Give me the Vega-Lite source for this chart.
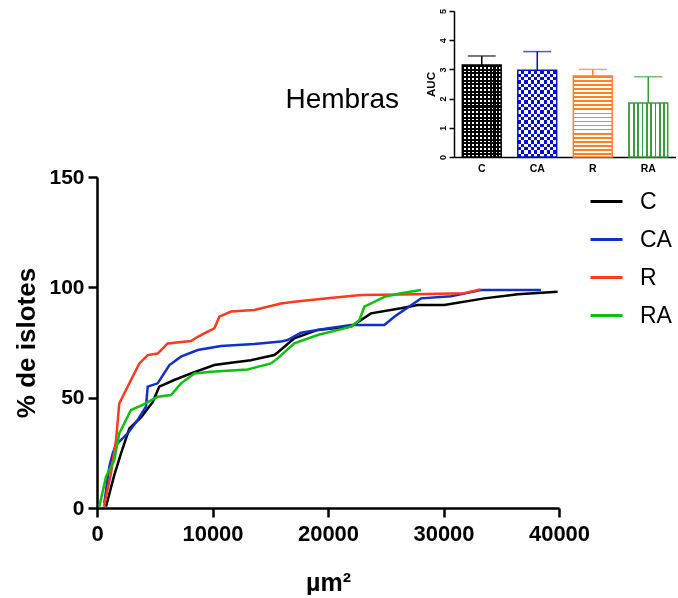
{
 "$schema": "https://vega.github.io/schema/vega-lite/v6.json",
 "padding": {"left": 13, "top": 8, "right": 0, "bottom": 0},
 "background": "white",
 "config": {"view": {"stroke": null}, "font": "Liberation Sans"},
 "resolve": {"scale": {"color": "independent"}},
 "spacing": -8,
 "vconcat": [
  {
   "spacing": 25,
   "hconcat": [
    {"width": 302, "height": 146,
     "title": {"text": "Hembras", "orient": "bottom", "anchor": "end", "frame": "group", "baseline": "top", "offset": -71, "fontSize": 28, "fontWeight": "normal", "font": "Liberation Sans", "color": "black"},
     "data": {"values": []}, "mark": {"type": "point", "opacity": 0}, "encoding": {}},
    {
     "width": 222, "height": 146,
     "data": {"values": [
       {"grupo": "C", "auc": 3.15, "sup": 3.46},
       {"grupo": "CA", "auc": 2.97, "sup": 3.61},
       {"grupo": "R", "auc": 2.77, "sup": 3.0},
       {"grupo": "RA", "auc": 1.85, "sup": 2.75}
     ]},
     "encoding": {
       "x": {"field": "grupo", "type": "nominal", "scale": {"domain": ["C", "CA", "R", "RA"], "paddingInner": 0.3, "paddingOuter": 0.15},
         "axis": {"title": null, "labelAngle": 0, "ticks": false, "labelFontSize": 10.5, "labelFontWeight": "bold", "labelColor": "black", "labelPadding": 6, "domainColor": "black", "domainWidth": 1.5}},
       "y": {"field": "auc", "type": "quantitative", "scale": {"domain": [0, 5], "nice": false},
         "axis": {"title": "AUC", "values": [0, 1, 2, 3, 4, 5], "grid": false, "labelAngle": -90, "labelAlign": "center", "labelBaseline": "bottom", "labelFontSize": 9, "labelFontWeight": "bold", "labelColor": "black", "labelPadding": 2, "tickColor": "black", "tickSize": 5, "tickWidth": 1.5, "domainColor": "black", "domainWidth": 1.5, "titleFontSize": 11.5, "titleFontWeight": "bold", "titleColor": "black", "titlePadding": 2}}
     },
     "layer": [
      {"transform": [{"filter": "datum.grupo === 'C'"}],
       "mark": {"type": "bar", "fill": {"gradient": "linear", "x1": 0, "y1": 0, "x2": 1, "y2": 0, "stops": [
        {"offset": 0, "color": "#000000"}, {"offset": 0.055, "color": "#000000"}, {"offset": 0.055, "color": "#ffffff"}, {"offset": 0.1, "color": "#ffffff"},
        {"offset": 0.1, "color": "#000000"}, {"offset": 0.155, "color": "#000000"}, {"offset": 0.155, "color": "#ffffff"}, {"offset": 0.2, "color": "#ffffff"},
        {"offset": 0.2, "color": "#000000"}, {"offset": 0.255, "color": "#000000"}, {"offset": 0.255, "color": "#ffffff"}, {"offset": 0.3, "color": "#ffffff"},
        {"offset": 0.3, "color": "#000000"}, {"offset": 0.355, "color": "#000000"}, {"offset": 0.355, "color": "#ffffff"}, {"offset": 0.4, "color": "#ffffff"},
        {"offset": 0.4, "color": "#000000"}, {"offset": 0.455, "color": "#000000"}, {"offset": 0.455, "color": "#ffffff"}, {"offset": 0.5, "color": "#ffffff"},
        {"offset": 0.5, "color": "#000000"}, {"offset": 0.555, "color": "#000000"}, {"offset": 0.555, "color": "#ffffff"}, {"offset": 0.6, "color": "#ffffff"},
        {"offset": 0.6, "color": "#000000"}, {"offset": 0.655, "color": "#000000"}, {"offset": 0.655, "color": "#ffffff"}, {"offset": 0.7, "color": "#ffffff"},
        {"offset": 0.7, "color": "#000000"}, {"offset": 0.755, "color": "#000000"}, {"offset": 0.755, "color": "#ffffff"}, {"offset": 0.8, "color": "#ffffff"},
        {"offset": 0.8, "color": "#000000"}, {"offset": 0.855, "color": "#000000"}, {"offset": 0.855, "color": "#ffffff"}, {"offset": 0.9, "color": "#ffffff"},
        {"offset": 0.9, "color": "#000000"}, {"offset": 0.955, "color": "#000000"}, {"offset": 0.955, "color": "#ffffff"}, {"offset": 1, "color": "#ffffff"}
       ]}}},
      {"transform": [{"filter": "datum.grupo === 'C'"}],
       "mark": {"type": "bar", "fill": {"gradient": "linear", "x1": 0, "y1": 0, "x2": 0, "y2": 1, "stops": [
        {"offset": 0, "color": "#000000"}, {"offset": 0.022, "color": "#000000"}, {"offset": 0.022, "color": "rgba(0,0,0,0)"}, {"offset": 0.04, "color": "rgba(0,0,0,0)"},
        {"offset": 0.04, "color": "#000000"}, {"offset": 0.062, "color": "#000000"}, {"offset": 0.062, "color": "rgba(0,0,0,0)"}, {"offset": 0.08, "color": "rgba(0,0,0,0)"},
        {"offset": 0.08, "color": "#000000"}, {"offset": 0.102, "color": "#000000"}, {"offset": 0.102, "color": "rgba(0,0,0,0)"}, {"offset": 0.12, "color": "rgba(0,0,0,0)"},
        {"offset": 0.12, "color": "#000000"}, {"offset": 0.142, "color": "#000000"}, {"offset": 0.142, "color": "rgba(0,0,0,0)"}, {"offset": 0.16, "color": "rgba(0,0,0,0)"},
        {"offset": 0.16, "color": "#000000"}, {"offset": 0.182, "color": "#000000"}, {"offset": 0.182, "color": "rgba(0,0,0,0)"}, {"offset": 0.2, "color": "rgba(0,0,0,0)"},
        {"offset": 0.2, "color": "#000000"}, {"offset": 0.222, "color": "#000000"}, {"offset": 0.222, "color": "rgba(0,0,0,0)"}, {"offset": 0.24, "color": "rgba(0,0,0,0)"},
        {"offset": 0.24, "color": "#000000"}, {"offset": 0.262, "color": "#000000"}, {"offset": 0.262, "color": "rgba(0,0,0,0)"}, {"offset": 0.28, "color": "rgba(0,0,0,0)"},
        {"offset": 0.28, "color": "#000000"}, {"offset": 0.302, "color": "#000000"}, {"offset": 0.302, "color": "rgba(0,0,0,0)"}, {"offset": 0.32, "color": "rgba(0,0,0,0)"},
        {"offset": 0.32, "color": "#000000"}, {"offset": 0.342, "color": "#000000"}, {"offset": 0.342, "color": "rgba(0,0,0,0)"}, {"offset": 0.36, "color": "rgba(0,0,0,0)"},
        {"offset": 0.36, "color": "#000000"}, {"offset": 0.382, "color": "#000000"}, {"offset": 0.382, "color": "rgba(0,0,0,0)"}, {"offset": 0.4, "color": "rgba(0,0,0,0)"},
        {"offset": 0.4, "color": "#000000"}, {"offset": 0.422, "color": "#000000"}, {"offset": 0.422, "color": "rgba(0,0,0,0)"}, {"offset": 0.44, "color": "rgba(0,0,0,0)"},
        {"offset": 0.44, "color": "#000000"}, {"offset": 0.462, "color": "#000000"}, {"offset": 0.462, "color": "rgba(0,0,0,0)"}, {"offset": 0.48, "color": "rgba(0,0,0,0)"},
        {"offset": 0.48, "color": "#000000"}, {"offset": 0.502, "color": "#000000"}, {"offset": 0.502, "color": "rgba(0,0,0,0)"}, {"offset": 0.52, "color": "rgba(0,0,0,0)"},
        {"offset": 0.52, "color": "#000000"}, {"offset": 0.542, "color": "#000000"}, {"offset": 0.542, "color": "rgba(0,0,0,0)"}, {"offset": 0.56, "color": "rgba(0,0,0,0)"},
        {"offset": 0.56, "color": "#000000"}, {"offset": 0.582, "color": "#000000"}, {"offset": 0.582, "color": "rgba(0,0,0,0)"}, {"offset": 0.6, "color": "rgba(0,0,0,0)"},
        {"offset": 0.6, "color": "#000000"}, {"offset": 0.622, "color": "#000000"}, {"offset": 0.622, "color": "rgba(0,0,0,0)"}, {"offset": 0.64, "color": "rgba(0,0,0,0)"},
        {"offset": 0.64, "color": "#000000"}, {"offset": 0.662, "color": "#000000"}, {"offset": 0.662, "color": "rgba(0,0,0,0)"}, {"offset": 0.68, "color": "rgba(0,0,0,0)"},
        {"offset": 0.68, "color": "#000000"}, {"offset": 0.702, "color": "#000000"}, {"offset": 0.702, "color": "rgba(0,0,0,0)"}, {"offset": 0.72, "color": "rgba(0,0,0,0)"},
        {"offset": 0.72, "color": "#000000"}, {"offset": 0.742, "color": "#000000"}, {"offset": 0.742, "color": "rgba(0,0,0,0)"}, {"offset": 0.76, "color": "rgba(0,0,0,0)"},
        {"offset": 0.76, "color": "#000000"}, {"offset": 0.782, "color": "#000000"}, {"offset": 0.782, "color": "rgba(0,0,0,0)"}, {"offset": 0.8, "color": "rgba(0,0,0,0)"},
        {"offset": 0.8, "color": "#000000"}, {"offset": 0.822, "color": "#000000"}, {"offset": 0.822, "color": "rgba(0,0,0,0)"}, {"offset": 0.84, "color": "rgba(0,0,0,0)"},
        {"offset": 0.84, "color": "#000000"}, {"offset": 0.862, "color": "#000000"}, {"offset": 0.862, "color": "rgba(0,0,0,0)"}, {"offset": 0.88, "color": "rgba(0,0,0,0)"},
        {"offset": 0.88, "color": "#000000"}, {"offset": 0.902, "color": "#000000"}, {"offset": 0.902, "color": "rgba(0,0,0,0)"}, {"offset": 0.92, "color": "rgba(0,0,0,0)"},
        {"offset": 0.92, "color": "#000000"}, {"offset": 0.942, "color": "#000000"}, {"offset": 0.942, "color": "rgba(0,0,0,0)"}, {"offset": 0.96, "color": "rgba(0,0,0,0)"},
        {"offset": 0.96, "color": "#000000"}, {"offset": 0.982, "color": "#000000"}, {"offset": 0.982, "color": "rgba(0,0,0,0)"}, {"offset": 1, "color": "rgba(0,0,0,0)"}
       ]}}},
      {"transform": [{"filter": "datum.grupo === 'C'"}],
       "mark": {"type": "bar", "fill": "transparent", "stroke": "#000000", "strokeWidth": 1.5}},
      {"transform": [{"filter": "datum.grupo === 'CA'"}],
       "mark": {"type": "bar", "fill": {"gradient": "linear", "x1": 0, "y1": 0, "x2": 1, "y2": 0, "stops": [
        {"offset": 0, "color": "#000000"}, {"offset": 0.0833, "color": "#000000"}, {"offset": 0.0833, "color": "#ffffff"}, {"offset": 0.1667, "color": "#ffffff"},
        {"offset": 0.1667, "color": "#000000"}, {"offset": 0.25, "color": "#000000"}, {"offset": 0.25, "color": "#ffffff"}, {"offset": 0.3333, "color": "#ffffff"},
        {"offset": 0.3333, "color": "#000000"}, {"offset": 0.4167, "color": "#000000"}, {"offset": 0.4167, "color": "#ffffff"}, {"offset": 0.5, "color": "#ffffff"},
        {"offset": 0.5, "color": "#000000"}, {"offset": 0.5833, "color": "#000000"}, {"offset": 0.5833, "color": "#ffffff"}, {"offset": 0.6667, "color": "#ffffff"},
        {"offset": 0.6667, "color": "#000000"}, {"offset": 0.75, "color": "#000000"}, {"offset": 0.75, "color": "#ffffff"}, {"offset": 0.8333, "color": "#ffffff"},
        {"offset": 0.8333, "color": "#000000"}, {"offset": 0.9167, "color": "#000000"}, {"offset": 0.9167, "color": "#ffffff"}, {"offset": 1, "color": "#ffffff"}
       ]}}},
      {"transform": [{"filter": "datum.grupo === 'CA'"}],
       "mark": {"type": "bar", "blend": "difference", "fill": {"gradient": "linear", "x1": 0, "y1": 0, "x2": 0, "y2": 1, "stops": [
        {"offset": 0, "color": "#ffffff"}, {"offset": 0.0385, "color": "#ffffff"}, {"offset": 0.0385, "color": "#000000"}, {"offset": 0.0769, "color": "#000000"},
        {"offset": 0.0769, "color": "#ffffff"}, {"offset": 0.1154, "color": "#ffffff"}, {"offset": 0.1154, "color": "#000000"}, {"offset": 0.1538, "color": "#000000"},
        {"offset": 0.1538, "color": "#ffffff"}, {"offset": 0.1923, "color": "#ffffff"}, {"offset": 0.1923, "color": "#000000"}, {"offset": 0.2308, "color": "#000000"},
        {"offset": 0.2308, "color": "#ffffff"}, {"offset": 0.2692, "color": "#ffffff"}, {"offset": 0.2692, "color": "#000000"}, {"offset": 0.3077, "color": "#000000"},
        {"offset": 0.3077, "color": "#ffffff"}, {"offset": 0.3462, "color": "#ffffff"}, {"offset": 0.3462, "color": "#000000"}, {"offset": 0.3846, "color": "#000000"},
        {"offset": 0.3846, "color": "#ffffff"}, {"offset": 0.4231, "color": "#ffffff"}, {"offset": 0.4231, "color": "#000000"}, {"offset": 0.4615, "color": "#000000"},
        {"offset": 0.4615, "color": "#ffffff"}, {"offset": 0.5, "color": "#ffffff"}, {"offset": 0.5, "color": "#000000"}, {"offset": 0.5385, "color": "#000000"},
        {"offset": 0.5385, "color": "#ffffff"}, {"offset": 0.5769, "color": "#ffffff"}, {"offset": 0.5769, "color": "#000000"}, {"offset": 0.6154, "color": "#000000"},
        {"offset": 0.6154, "color": "#ffffff"}, {"offset": 0.6538, "color": "#ffffff"}, {"offset": 0.6538, "color": "#000000"}, {"offset": 0.6923, "color": "#000000"},
        {"offset": 0.6923, "color": "#ffffff"}, {"offset": 0.7308, "color": "#ffffff"}, {"offset": 0.7308, "color": "#000000"}, {"offset": 0.7692, "color": "#000000"},
        {"offset": 0.7692, "color": "#ffffff"}, {"offset": 0.8077, "color": "#ffffff"}, {"offset": 0.8077, "color": "#000000"}, {"offset": 0.8462, "color": "#000000"},
        {"offset": 0.8462, "color": "#ffffff"}, {"offset": 0.8846, "color": "#ffffff"}, {"offset": 0.8846, "color": "#000000"}, {"offset": 0.9231, "color": "#000000"},
        {"offset": 0.9231, "color": "#ffffff"}, {"offset": 0.9615, "color": "#ffffff"}, {"offset": 0.9615, "color": "#000000"}, {"offset": 1, "color": "#000000"}
       ]}}},
      {"transform": [{"filter": "datum.grupo === 'CA'"}],
       "mark": {"type": "bar", "blend": "screen", "fill": "#0010cc"}},
      {"transform": [{"filter": "datum.grupo === 'CA'"}],
       "mark": {"type": "bar", "fill": "transparent", "stroke": "#0010cc", "strokeWidth": 1.5}},
      {"transform": [{"filter": "datum.grupo === 'R'"}],
       "mark": {"type": "bar", "stroke": "#ff7f2a", "strokeWidth": 1.5, "fill": {"gradient": "linear", "x1": 0, "y1": 0, "x2": 0, "y2": 1, "stops": [
        {"offset": 0, "color": "#ff7f2a"}, {"offset": 0.022, "color": "#ff7f2a"}, {"offset": 0.022, "color": "#ffffff"}, {"offset": 0.05, "color": "#ffffff"},
        {"offset": 0.05, "color": "#ff7f2a"}, {"offset": 0.072, "color": "#ff7f2a"}, {"offset": 0.072, "color": "#ffffff"}, {"offset": 0.1, "color": "#ffffff"},
        {"offset": 0.1, "color": "#ff7f2a"}, {"offset": 0.122, "color": "#ff7f2a"}, {"offset": 0.122, "color": "#ffffff"}, {"offset": 0.15, "color": "#ffffff"},
        {"offset": 0.15, "color": "#ff7f2a"}, {"offset": 0.172, "color": "#ff7f2a"}, {"offset": 0.172, "color": "#ffffff"}, {"offset": 0.2, "color": "#ffffff"},
        {"offset": 0.2, "color": "#ff7f2a"}, {"offset": 0.222, "color": "#ff7f2a"}, {"offset": 0.222, "color": "#ffffff"}, {"offset": 0.25, "color": "#ffffff"},
        {"offset": 0.25, "color": "#ff7f2a"}, {"offset": 0.272, "color": "#ff7f2a"}, {"offset": 0.272, "color": "#ffffff"}, {"offset": 0.3, "color": "#ffffff"},
        {"offset": 0.3, "color": "#ff7f2a"}, {"offset": 0.322, "color": "#ff7f2a"}, {"offset": 0.322, "color": "#ffffff"}, {"offset": 0.35, "color": "#ffffff"},
        {"offset": 0.35, "color": "#ff7f2a"}, {"offset": 0.372, "color": "#ff7f2a"}, {"offset": 0.372, "color": "#ffffff"}, {"offset": 0.4, "color": "#ffffff"},
        {"offset": 0.4, "color": "#ff7f2a"}, {"offset": 0.422, "color": "#ff7f2a"}, {"offset": 0.422, "color": "#ffffff"}, {"offset": 0.45, "color": "#ffffff"},
        {"offset": 0.45, "color": "#ff7f2a"}, {"offset": 0.472, "color": "#ff7f2a"}, {"offset": 0.472, "color": "#ffffff"}, {"offset": 0.5, "color": "#ffffff"},
        {"offset": 0.5, "color": "#ff7f2a"}, {"offset": 0.522, "color": "#ff7f2a"}, {"offset": 0.522, "color": "#ffffff"}, {"offset": 0.55, "color": "#ffffff"},
        {"offset": 0.55, "color": "#ff7f2a"}, {"offset": 0.572, "color": "#ff7f2a"}, {"offset": 0.572, "color": "#ffffff"}, {"offset": 0.6, "color": "#ffffff"},
        {"offset": 0.6, "color": "#ff7f2a"}, {"offset": 0.622, "color": "#ff7f2a"}, {"offset": 0.622, "color": "#ffffff"}, {"offset": 0.65, "color": "#ffffff"},
        {"offset": 0.65, "color": "#ff7f2a"}, {"offset": 0.672, "color": "#ff7f2a"}, {"offset": 0.672, "color": "#ffffff"}, {"offset": 0.7, "color": "#ffffff"},
        {"offset": 0.7, "color": "#ff7f2a"}, {"offset": 0.722, "color": "#ff7f2a"}, {"offset": 0.722, "color": "#ffffff"}, {"offset": 0.75, "color": "#ffffff"},
        {"offset": 0.75, "color": "#ff7f2a"}, {"offset": 0.772, "color": "#ff7f2a"}, {"offset": 0.772, "color": "#ffffff"}, {"offset": 0.8, "color": "#ffffff"},
        {"offset": 0.8, "color": "#ff7f2a"}, {"offset": 0.822, "color": "#ff7f2a"}, {"offset": 0.822, "color": "#ffffff"}, {"offset": 0.85, "color": "#ffffff"},
        {"offset": 0.85, "color": "#ff7f2a"}, {"offset": 0.872, "color": "#ff7f2a"}, {"offset": 0.872, "color": "#ffffff"}, {"offset": 0.9, "color": "#ffffff"},
        {"offset": 0.9, "color": "#ff7f2a"}, {"offset": 0.922, "color": "#ff7f2a"}, {"offset": 0.922, "color": "#ffffff"}, {"offset": 0.95, "color": "#ffffff"},
        {"offset": 0.95, "color": "#ff7f2a"}, {"offset": 0.972, "color": "#ff7f2a"}, {"offset": 0.972, "color": "#ffffff"}, {"offset": 1, "color": "#ffffff"}
       ]}}},
      {"transform": [{"filter": "datum.grupo === 'RA'"}],
       "mark": {"type": "bar", "stroke": "#3c9c3c", "strokeWidth": 1.5, "fill": {"gradient": "linear", "x1": 0, "y1": 0, "x2": 1, "y2": 0, "stops": [
        {"offset": 0, "color": "#3c9c3c"}, {"offset": 0.04, "color": "#3c9c3c"}, {"offset": 0.04, "color": "#ffffff"}, {"offset": 0.111, "color": "#ffffff"},
        {"offset": 0.111, "color": "#3c9c3c"}, {"offset": 0.151, "color": "#3c9c3c"}, {"offset": 0.151, "color": "#ffffff"}, {"offset": 0.222, "color": "#ffffff"},
        {"offset": 0.222, "color": "#3c9c3c"}, {"offset": 0.262, "color": "#3c9c3c"}, {"offset": 0.262, "color": "#ffffff"}, {"offset": 0.333, "color": "#ffffff"},
        {"offset": 0.333, "color": "#3c9c3c"}, {"offset": 0.373, "color": "#3c9c3c"}, {"offset": 0.373, "color": "#ffffff"}, {"offset": 0.444, "color": "#ffffff"},
        {"offset": 0.444, "color": "#3c9c3c"}, {"offset": 0.484, "color": "#3c9c3c"}, {"offset": 0.484, "color": "#ffffff"}, {"offset": 0.556, "color": "#ffffff"},
        {"offset": 0.556, "color": "#3c9c3c"}, {"offset": 0.596, "color": "#3c9c3c"}, {"offset": 0.596, "color": "#ffffff"}, {"offset": 0.667, "color": "#ffffff"},
        {"offset": 0.667, "color": "#3c9c3c"}, {"offset": 0.707, "color": "#3c9c3c"}, {"offset": 0.707, "color": "#ffffff"}, {"offset": 0.778, "color": "#ffffff"},
        {"offset": 0.778, "color": "#3c9c3c"}, {"offset": 0.818, "color": "#3c9c3c"}, {"offset": 0.818, "color": "#ffffff"}, {"offset": 0.889, "color": "#ffffff"},
        {"offset": 0.889, "color": "#3c9c3c"}, {"offset": 0.929, "color": "#3c9c3c"}, {"offset": 0.929, "color": "#ffffff"}, {"offset": 1, "color": "#ffffff"}
       ]}}},
      {"mark": {"type": "rule", "strokeWidth": 1.5},
       "encoding": {"y2": {"field": "sup"},
         "color": {"field": "grupo", "type": "nominal", "scale": {"domain": ["C", "CA", "R", "RA"], "range": ["#000000", "#0010cc", "#ff7f2a", "#3c9c3c"]}, "legend": null}}},
      {"mark": {"type": "tick", "orient": "horizontal", "size": 28, "thickness": 1.5},
       "encoding": {"y": {"field": "sup", "type": "quantitative", "scale": {"domain": [0, 5], "nice": false},
         "axis": {"title": "AUC", "values": [0, 1, 2, 3, 4, 5], "grid": false, "labelAngle": -90, "labelAlign": "center", "labelBaseline": "bottom", "labelFontSize": 9, "labelFontWeight": "bold", "labelColor": "black", "labelPadding": 2, "tickColor": "black", "tickSize": 5, "tickWidth": 1.5, "domainColor": "black", "domainWidth": 1.5, "titleFontSize": 11.5, "titleFontWeight": "bold", "titleColor": "black", "titlePadding": 2}},
         "color": {"field": "grupo", "type": "nominal", "scale": {"domain": ["C", "CA", "R", "RA"], "range": ["#000000", "#0010cc", "#ff7f2a", "#3c9c3c"]}, "legend": null}}}
     ]
    }
   ]
  },
  {
   "width": 462, "height": 331,
   "data": {"values": [
    {"grupo": "C", "area": 780, "pct": 0.6}, {"grupo": "C", "area": 1500, "pct": 15}, {"grupo": "C", "area": 2080, "pct": 24.8}, {"grupo": "C", "area": 2800, "pct": 36}, {"grupo": "C", "area": 3810, "pct": 41}, {"grupo": "C", "area": 4820, "pct": 48}, {"grupo": "C", "area": 5390, "pct": 55}, {"grupo": "C", "area": 6690, "pct": 58}, {"grupo": "C", "area": 8140, "pct": 61}, {"grupo": "C", "area": 10160, "pct": 64.8}, {"grupo": "C", "area": 11600, "pct": 65.8}, {"grupo": "C", "area": 13330, "pct": 67}, {"grupo": "C", "area": 15350, "pct": 69.3}, {"grupo": "C", "area": 15640, "pct": 70.5}, {"grupo": "C", "area": 17080, "pct": 76.9}, {"grupo": "C", "area": 19110, "pct": 80.7}, {"grupo": "C", "area": 22000, "pct": 82.2}, {"grupo": "C", "area": 23720, "pct": 88.2}, {"grupo": "C", "area": 26320, "pct": 90.5}, {"grupo": "C", "area": 27760, "pct": 92}, {"grupo": "C", "area": 30070, "pct": 92}, {"grupo": "C", "area": 33530, "pct": 95}, {"grupo": "C", "area": 36420, "pct": 96.9}, {"grupo": "C", "area": 39880, "pct": 98},
    {"grupo": "CA", "area": 630, "pct": 2.2}, {"grupo": "CA", "area": 1070, "pct": 18.8}, {"grupo": "CA", "area": 1360, "pct": 24.8}, {"grupo": "CA", "area": 1640, "pct": 28.6}, {"grupo": "CA", "area": 2650, "pct": 33.8}, {"grupo": "CA", "area": 3520, "pct": 39.9}, {"grupo": "CA", "area": 4240, "pct": 45.9}, {"grupo": "CA", "area": 4390, "pct": 55}, {"grupo": "CA", "area": 5250, "pct": 56.5}, {"grupo": "CA", "area": 6270, "pct": 64.8}, {"grupo": "CA", "area": 7270, "pct": 68.6}, {"grupo": "CA", "area": 8720, "pct": 71.6}, {"grupo": "CA", "area": 10740, "pct": 73.4}, {"grupo": "CA", "area": 13620, "pct": 74.3}, {"grupo": "CA", "area": 15930, "pct": 75.4}, {"grupo": "CA", "area": 16500, "pct": 76.1}, {"grupo": "CA", "area": 17660, "pct": 79.4}, {"grupo": "CA", "area": 19500, "pct": 81}, {"grupo": "CA", "area": 21990, "pct": 82.9}, {"grupo": "CA", "area": 24880, "pct": 82.9}, {"grupo": "CA", "area": 25740, "pct": 86.7}, {"grupo": "CA", "area": 28050, "pct": 95}, {"grupo": "CA", "area": 30650, "pct": 96}, {"grupo": "CA", "area": 33250, "pct": 98.8}, {"grupo": "CA", "area": 38440, "pct": 98.8},
    {"grupo": "R", "area": 600, "pct": 0.6}, {"grupo": "R", "area": 1210, "pct": 15.7}, {"grupo": "R", "area": 1650, "pct": 30.8}, {"grupo": "R", "area": 1930, "pct": 47.4}, {"grupo": "R", "area": 2370, "pct": 52}, {"grupo": "R", "area": 2940, "pct": 58}, {"grupo": "R", "area": 3670, "pct": 65.5}, {"grupo": "R", "area": 4390, "pct": 69.3}, {"grupo": "R", "area": 5250, "pct": 70}, {"grupo": "R", "area": 6120, "pct": 74.6}, {"grupo": "R", "area": 8140, "pct": 75.7}, {"grupo": "R", "area": 8720, "pct": 77.6}, {"grupo": "R", "area": 9580, "pct": 79.9}, {"grupo": "R", "area": 10160, "pct": 81.4}, {"grupo": "R", "area": 10590, "pct": 86.7}, {"grupo": "R", "area": 11600, "pct": 89}, {"grupo": "R", "area": 13620, "pct": 89.7}, {"grupo": "R", "area": 15930, "pct": 92.7}, {"grupo": "R", "area": 17080, "pct": 93.5}, {"grupo": "R", "area": 19970, "pct": 95}, {"grupo": "R", "area": 22860, "pct": 96.5}, {"grupo": "R", "area": 26320, "pct": 96.8}, {"grupo": "R", "area": 31800, "pct": 97.3}, {"grupo": "R", "area": 32960, "pct": 98.8}, {"grupo": "R", "area": 33200, "pct": 99},
    {"grupo": "RA", "area": 200, "pct": 0.6}, {"grupo": "RA", "area": 780, "pct": 14.2}, {"grupo": "RA", "area": 1500, "pct": 21.7}, {"grupo": "RA", "area": 1930, "pct": 33.8}, {"grupo": "RA", "area": 2940, "pct": 44.4}, {"grupo": "RA", "area": 3950, "pct": 46.7}, {"grupo": "RA", "area": 5250, "pct": 50.4}, {"grupo": "RA", "area": 6410, "pct": 51.2}, {"grupo": "RA", "area": 7270, "pct": 56.5}, {"grupo": "RA", "area": 8430, "pct": 61}, {"grupo": "RA", "area": 9870, "pct": 61.7}, {"grupo": "RA", "area": 13040, "pct": 62.8}, {"grupo": "RA", "area": 15060, "pct": 65.5}, {"grupo": "RA", "area": 15640, "pct": 67.8}, {"grupo": "RA", "area": 17080, "pct": 74.6}, {"grupo": "RA", "area": 19110, "pct": 78.4}, {"grupo": "RA", "area": 22000, "pct": 82.2}, {"grupo": "RA", "area": 22720, "pct": 85.2}, {"grupo": "RA", "area": 23150, "pct": 91.2}, {"grupo": "RA", "area": 24880, "pct": 95.7}, {"grupo": "RA", "area": 26320, "pct": 97.3}, {"grupo": "RA", "area": 28050, "pct": 98.8}
   ]},
   "mark": {"type": "line", "strokeWidth": 2.5},
   "encoding": {
    "x": {"field": "area", "type": "quantitative", "scale": {"domain": [0, 40000], "nice": false},
      "axis": {"values": [0, 10000, 20000, 30000, 40000], "format": "d", "grid": false, "title": "µm²", "labelFlush": false, "labelOverlap": false, "labelFontSize": 22, "labelFontWeight": "bold", "labelColor": "black", "labelPadding": 6, "tickSize": 9, "tickWidth": 2.5, "tickColor": "black", "domainColor": "black", "domainWidth": 2.5, "titleFontSize": 25, "titleFontWeight": "bold", "titleColor": "black", "titlePadding": 26}},
    "y": {"field": "pct", "type": "quantitative", "scale": {"domain": [0, 150], "nice": false},
      "axis": {"values": [0, 50, 100, 150], "grid": false, "title": "% de islotes", "labelFlush": false, "labelFontSize": 21, "labelFontWeight": "bold", "labelColor": "black", "labelPadding": 4, "tickSize": 9, "tickWidth": 2.5, "tickColor": "black", "domainColor": "black", "domainWidth": 2.5, "titleFontSize": 26, "titleFontWeight": "bold", "titleColor": "black", "titlePadding": 9}},
    "color": {"field": "grupo", "type": "nominal", "scale": {"domain": ["C", "CA", "R", "RA"], "range": ["#000000", "#1030c8", "#ff3a1a", "#10c010"]},
      "legend": {"title": null, "orient": "none", "legendX": 492, "legendY": 7, "padding": 0, "symbolType": "stroke", "symbolSize": 1024, "symbolStrokeWidth": 3, "labelFontSize": 23, "labelFont": "Liberation Sans", "labelColor": "black", "labelOffset": 16, "rowPadding": 8}}
   }
  }
 ]
}
